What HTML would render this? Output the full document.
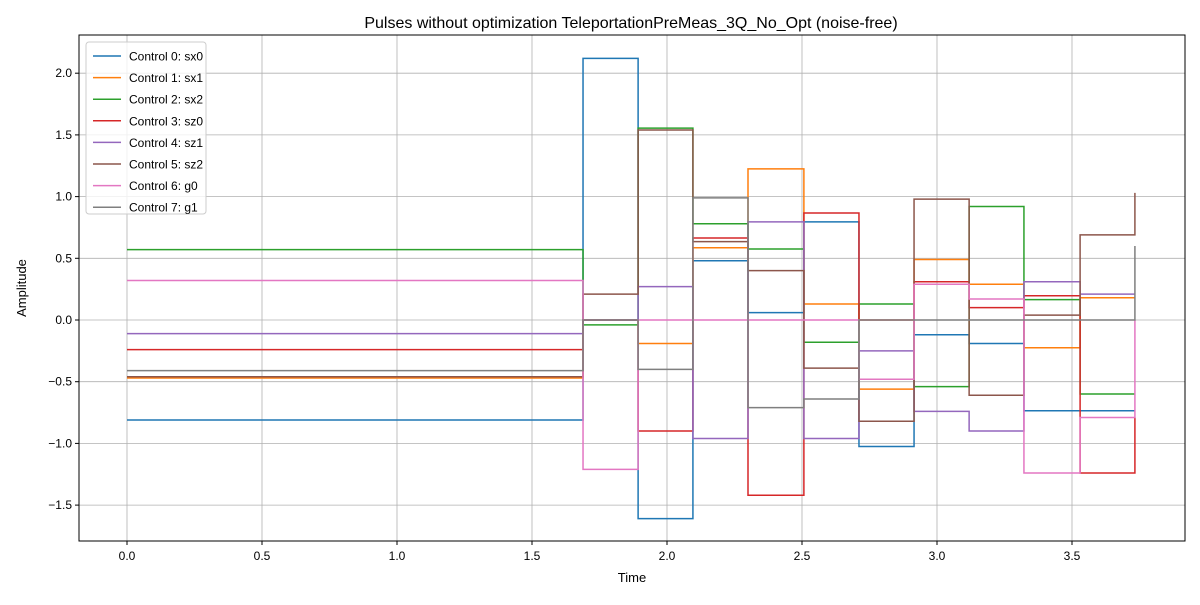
<!DOCTYPE html>
<html><head><meta charset="utf-8"><style>
body{margin:0;background:#fff;}
svg{font-family:"Liberation Sans","DejaVu Sans",sans-serif;}
</style></head><body>
<svg id="chart" width="1200" height="600" xmlns="http://www.w3.org/2000/svg">
<rect width="1200" height="600" fill="#fff"/>
<text x="631" y="28" font-size="16" text-anchor="middle">Pulses without optimization TeleportationPreMeas_3Q_No_Opt (noise-free)</text>
<g id="grid"></g>
<g id="series"></g>
<rect x="79" y="35" width="1106" height="506" fill="none" stroke="#000" stroke-width="1"/>
<g id="ticks"></g>
<text x="632" y="582" font-size="13" text-anchor="middle">Time</text>
<text x="26" y="288" font-size="13" text-anchor="middle" transform="rotate(-90 26 288)">Amplitude</text>
<g id="legend"></g>
</svg>
<script>
const times=[0,1.689,1.893,2.096,2.300,2.507,2.711,2.915,3.119,3.322,3.530,3.733];
const labels=["Control 0: sx0","Control 1: sx1","Control 2: sx2","Control 3: sz0","Control 4: sz1","Control 5: sz2","Control 6: g0","Control 7: g1"];
const colors=["#1f77b4","#ff7f0e","#2ca02c","#d62728","#9467bd","#8c564b","#e377c2","#7f7f7f"];
const sx0=[-0.81,2.12,-1.61,0.48,0.06,0.795,-1.025,-0.12,-0.19,-0.735,-0.735,-0.735];
const sx1=[-0.47,0,-0.19,0.585,1.225,0.13,-0.56,0.49,0.29,-0.225,0.18,0.18];
const sx2=[0.57,-0.04,1.555,0.78,0.575,-0.18,0.13,-0.54,0.92,0.165,-0.60,-0.60];
const sz0=[-0.24,0,-0.90,0.665,-1.42,0.867,0,0.31,0.10,0.197,-1.24,-0.79];
const sz1=[-0.11,0,0.27,-0.96,0.795,-0.96,-0.25,-0.74,-0.90,0.31,0.21,0.21];
const sz2=[-0.46,0.21,1.54,0.635,0.40,-0.39,-0.82,0.98,-0.61,0.04,0.69,1.03];
const g0=[0.32,-1.21,0,0,0,0,-0.48,0.29,0.17,-1.24,-0.79,0];
const g1=[-0.41,0,-0.40,0.99,-0.71,-0.64,0,0,0,0,0,0.60];
const seriesVals=[sx0,sx1,sx2,sz0,sz1,sz2,g0,g1];
const xTicks=[0,0.5,1.0,1.5,2.0,2.5,3.0,3.5];
const yTicks=[-1.5,-1.0,-0.5,0.0,0.5,1.0,1.5,2.0];
const NS="http://www.w3.org/2000/svg";
const X=t=>127+t*270;
const Y=v=>320-v*123.4;
function mk(tag,attrs,parent){const e=document.createElementNS(NS,tag);for(const k in attrs)e.setAttribute(k,attrs[k]);parent.appendChild(e);return e;}
const grid=document.getElementById('grid'),ticks=document.getElementById('ticks');
xTicks.forEach(t=>{
 const l=mk('line',{x1:X(t),x2:X(t),y1:35,y2:541,stroke:'#b0b0b0','stroke-width':0.8},grid);
 
 
 mk('line',{x1:X(t),x2:X(t),y1:541,y2:545,stroke:'#000'},ticks);
 const tx=mk('text',{x:X(t),y:560,'font-size':12,'text-anchor':'middle'},ticks);
 tx.textContent=t.toFixed(1);
 
 
});
yTicks.forEach(v=>{
 const l=mk('line',{x1:79,x2:1185,y1:Y(v),y2:Y(v),stroke:'#b0b0b0','stroke-width':0.8},grid);
 
 
 mk('line',{x1:75,x2:79,y1:Y(v),y2:Y(v),stroke:'#000'},ticks);
 const tx=mk('text',{x:72,y:Y(v)+4,'font-size':12,'text-anchor':'end'},ticks);
 tx.textContent=(v<0?'\u2212':'')+Math.abs(v).toFixed(1);
 
 
});
const sg=document.getElementById('series');
seriesVals.forEach((vals,i)=>{
 let d='M'+X(times[0])+','+Y(vals[0]);
 for(let k=1;k<times.length;k++){d+=' H'+X(times[k])+' V'+Y(vals[k]);}
 const p=mk('path',{d:d,fill:'none',stroke:colors[i],'stroke-width':1.5},sg);
 
 
});
const lg=document.getElementById('legend');
const box=mk('rect',{x:86,y:42,width:120,height:172,rx:3,fill:'#fff','fill-opacity':0.8,stroke:'#ccc'},lg);


labels.forEach((lab,i)=>{
 const y=56+i*21.6;
 mk('line',{x1:93,x2:121,y1:y,y2:y,stroke:colors[i],'stroke-width':1.5},lg);
 const t=mk('text',{x:129,y:y+4.5,'font-size':12},lg);
 t.textContent=lab;
 
 
});
</script>
</body></html>
